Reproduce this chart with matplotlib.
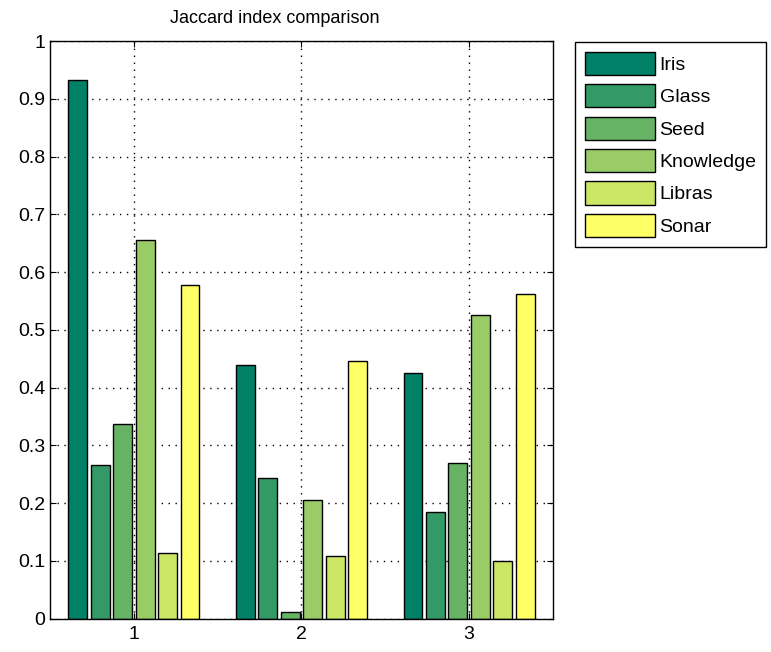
import numpy as np
import matplotlib.pyplot as plt

plt.rcParams['font.family'] = ['Liberation Sans', 'DejaVu Sans']

groups = [1, 2, 3]
datasets = ["Iris", "Glass", "Seed", "Knowledge", "Libras", "Sonar"]
iris = [0.933, 0.440, 0.425]
glass = [0.267, 0.243, 0.184]
seed = [0.337, 0.012, 0.270]
knowledge = [0.656, 0.205, 0.525]
libras = [0.114, 0.108, 0.100]
sonar = [0.577, 0.446, 0.563]
series = [iris, glass, seed, knowledge, libras, sonar]

# MATLAB "summer" colormap, 6 entries
colors = [(0.0, 0.5, 0.4), (0.2, 0.6, 0.4), (0.4, 0.7, 0.4),
          (0.6, 0.8, 0.4), (0.8, 0.9, 0.4), (1.0, 1.0, 0.4)]

fig = plt.figure(figsize=(7.71, 6.52), dpi=100)
ax = fig.add_axes([0.065, 0.051, 0.652, 0.886])

n = len(series)
step = 0.134
width = 0.112
x = np.array(groups, dtype=float)
for i, (vals, name) in enumerate(zip(series, datasets)):
    offs = (i - (n - 1) / 2) * step
    ax.bar(x + offs, vals, width, color=colors[i], edgecolor='black',
           linewidth=1.0, label=name, zorder=2)

ax.set_xlim(0.5, 3.5)
ax.set_ylim(0, 1)
ax.set_xticks(groups)
ax.set_yticks(np.arange(0, 1.01, 0.1))
ax.set_yticklabels(['0', '0.1', '0.2', '0.3', '0.4', '0.5', '0.6', '0.7',
                    '0.8', '0.9', '1'])
ax.tick_params(direction='in', top=True, right=True, length=4,
               labelsize=14, colors='black')
ax.tick_params(axis='x', pad=5)
ax.grid(True, linestyle=(0, (1, 4)), color='black', linewidth=1.0)
ax.set_axisbelow(True)
for s in ax.spines.values():
    s.set_linewidth(1.0)
ax.set_title("Jaccard index comparison", fontsize=13, pad=13, x=0.447)

leg = fig.legend(loc='upper left', bbox_to_anchor=(575 / 771, 1 - 42 / 652),
                 fontsize=14, handlelength=3.6, handleheight=1.45,
                 handletextpad=0.25, labelspacing=0.48, borderpad=0.5,
                 fancybox=False, framealpha=1, edgecolor='black',
                 borderaxespad=0)
leg.get_frame().set_linewidth(1.0)

fig.savefig("out.png", dpi=100)
